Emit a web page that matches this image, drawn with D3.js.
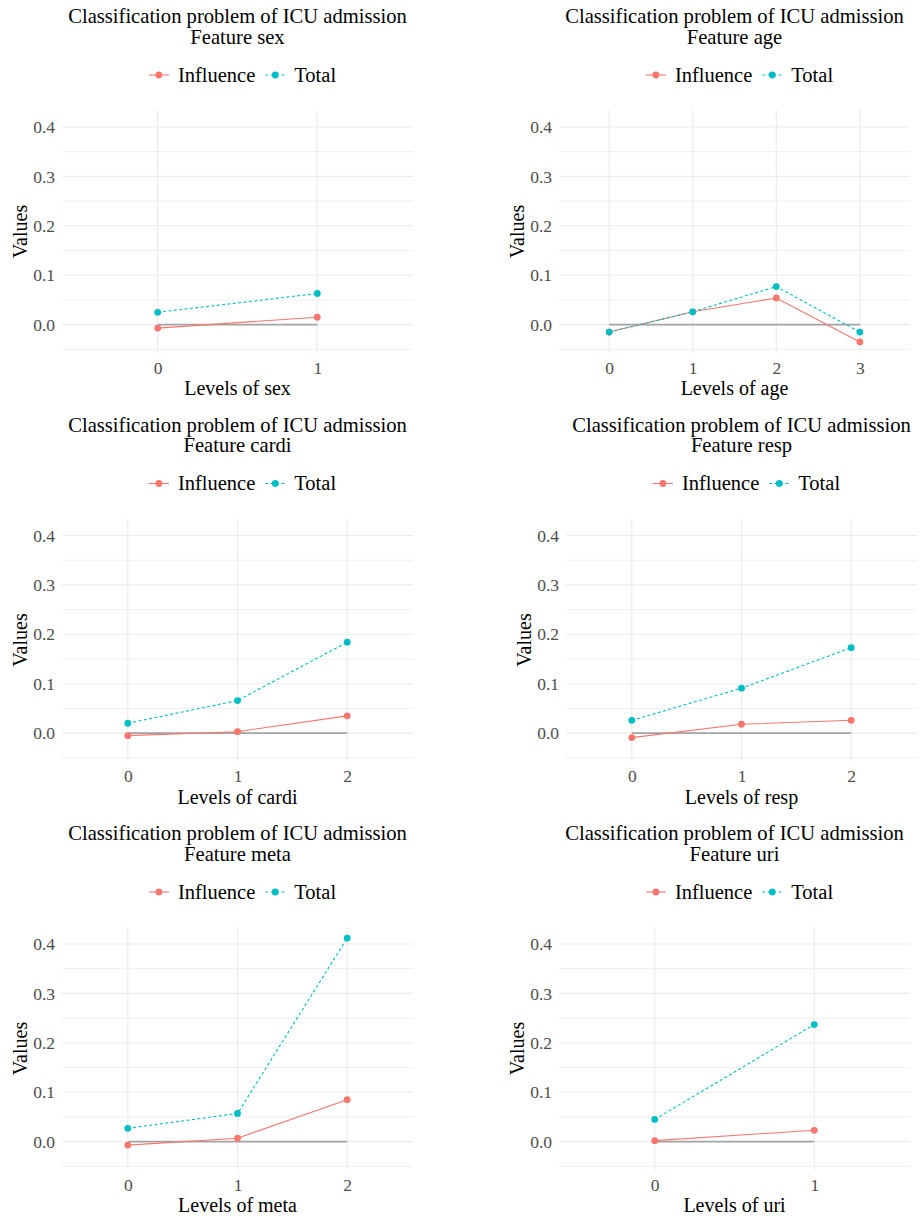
<!DOCTYPE html>
<html>
<head>
<meta charset="utf-8">
<script src="https://cdn.jsdelivr.net/npm/d3@7"></script>
<style>
  body { margin: 0; background: #fff; }
  svg text { font-family: "Liberation Serif", serif; }
</style>
</head>
<body>
<div id="vis"></div>
<script>

// data
const seriesNames = ['Influence', 'Total'];
const seriesColors = ['#F8766D', '#00BFC4'];
const yTicks = [0, 0.1, 0.2, 0.3, 0.4];
const chartTitle = 'Classification problem of ICU admission';

const features = ['sex', 'age', 'cardi', 'resp', 'meta', 'uri'];
const levelsSex = ['0', '1'];
const levelsAge = ['0', '1', '2', '3'];
const levelsCardi = ['0', '1', '2'];
const levelsResp = ['0', '1', '2'];
const levelsMeta = ['0', '1', '2'];
const levelsUri = ['0', '1'];

const influenceSex = [-0.007, 0.015];
const totalSex = [0.025, 0.063];
const influenceAge = [-0.015, 0.026, 0.054, -0.035];
const totalAge = [-0.015, 0.026, 0.077, -0.015];
const influenceCardi = [-0.005, 0.003, 0.035];
const totalCardi = [0.020, 0.066, 0.184];
const influenceResp = [-0.009, 0.018, 0.026];
const totalResp = [0.026, 0.091, 0.173];
const influenceMeta = [-0.007, 0.007, 0.085];
const totalMeta = [0.027, 0.057, 0.412];
const influenceUri = [0.002, 0.023];
const totalUri = [0.045, 0.237];

let panels = [
    {feature: features[0], levels: levelsSex, series: [influenceSex, totalSex], left: 62, top: 110},
    {feature: features[1], levels: levelsAge, series: [influenceAge, totalAge], left: 559, top: 110},
    {feature: features[2], levels: levelsCardi, series: [influenceCardi, totalCardi], left: 62, top: 518.5},
    {feature: features[3], levels: levelsResp, series: [influenceResp, totalResp], left: 566, top: 518.5},
    {feature: features[4], levels: levelsMeta, series: [influenceMeta, totalMeta], left: 62, top: 927},
    {feature: features[5], levels: levelsUri, series: [influenceUri, totalUri], left: 559, top: 927}
];

let width = 351,
    height = 243;

const serif = '"Liberation Serif", serif';

// shared y scale, ggplot style 5% expansion
let allValues = panels.map(p => p.series.flat()).flat();
let ext = d3.extent(allValues);
let pad = (ext[1] - ext[0]) * 0.05;

let yScale = d3.scaleLinear()
    .domain([ext[0] - pad, ext[1] + pad])
    .range([height, 0]);

let minorTicks = d3.range(yTicks.length + 1)
    .map(i => yTicks[0] - 0.05 + i * 0.1)
    .filter(v => v >= yScale.domain()[0] && v <= yScale.domain()[1]);

let svg = d3.select('#vis')
    .append('svg')
    .attr('width', 920)
    .attr('height', 1220)
    .attr('font-family', serif);

const dashes = [null, '3,2.4'];

panels.forEach(function(p) {
    let g = svg.append('g')
        .attr('transform', 'translate(' + p.left + ',' + p.top + ')');

    let xScale = d3.scalePoint()
        .domain(p.levels)
        .range([0, width])
        .padding(0.6);

    // grid
    g.selectAll('line.minor')
        .data(minorTicks)
        .enter()
        .append('line')
        .attr('x1', 0).attr('x2', width)
        .attr('y1', d => yScale(d)).attr('y2', d => yScale(d))
        .attr('stroke', '#ebebeb')
        .attr('stroke-width', 0.8);

    g.selectAll('line.major')
        .data(yTicks)
        .enter()
        .append('line')
        .attr('x1', 0).attr('x2', width)
        .attr('y1', d => yScale(d)).attr('y2', d => yScale(d))
        .attr('stroke', '#ebebeb')
        .attr('stroke-width', 1.1);

    g.selectAll('line.vgrid')
        .data(p.levels)
        .enter()
        .append('line')
        .attr('x1', d => xScale(d)).attr('x2', d => xScale(d))
        .attr('y1', 0).attr('y2', height)
        .attr('stroke', '#ebebeb')
        .attr('stroke-width', 1.1);

    // axes
    let yAxis = g.append('g')
        .call(d3.axisLeft(yScale).tickValues(yTicks).tickSize(0).tickPadding(7).tickFormat(d3.format('.1f')));
    let xAxis = g.append('g')
        .attr('transform', 'translate(0,' + height + ')')
        .call(d3.axisBottom(xScale).tickSize(0).tickPadding(8.5));
    [yAxis, xAxis].forEach(function(a) {
        a.attr('font-family', serif).attr('font-size', 17.5);
        a.select('.domain').remove();
        a.selectAll('text')
            .attr('fill', '#4d4d4d');
    });

    // zero reference line
    g.append('line')
        .attr('x1', xScale(p.levels[0]))
        .attr('x2', xScale(p.levels[p.levels.length - 1]))
        .attr('y1', yScale(0)).attr('y2', yScale(0))
        .attr('stroke', '#a3a3a3')
        .attr('stroke-width', 1.6);

    // series
    let line = d3.line()
        .x((d, i) => xScale(p.levels[i]))
        .y(d => yScale(d));

    p.series.forEach(function(values, s) {
        g.append('path')
            .datum(values)
            .attr('d', line)
            .attr('fill', 'none')
            .attr('stroke', seriesColors[s])
            .attr('stroke-width', 1.1)
            .attr('stroke-dasharray', dashes[s]);
    });
    p.series.forEach(function(values, s) {
        g.selectAll('circle.s' + s)
            .data(values)
            .enter()
            .append('circle')
            .attr('cx', (d, i) => xScale(p.levels[i]))
            .attr('cy', d => yScale(d))
            .attr('r', 3.4)
            .attr('fill', seriesColors[s]);
    });

    // titles
    g.append('text')
        .attr('x', width / 2).attr('y', -87)
        .attr('text-anchor', 'middle')
        .style('font-size', '20.6px')
        .text(chartTitle);
    g.append('text')
        .attr('x', width / 2).attr('y', -66.5)
        .attr('text-anchor', 'middle')
        .style('font-size', '20.6px')
        .text('Feature ' + p.feature);

    g.append('text')
        .attr('x', width / 2).attr('y', height + 42)
        .attr('text-anchor', 'middle')
        .style('font-size', '20px')
        .text('Levels of ' + p.feature);

    g.append('text')
        .attr('transform', 'translate(-35,' + (height / 2) + ') rotate(-90)')
        .attr('text-anchor', 'middle')
        .style('font-size', '20px')
        .text('Values');

    // legend
    let legend = g.append('g');
    let xPos = 0;
    seriesNames.forEach(function(name, s) {
        let item = legend.append('g').attr('transform', 'translate(' + xPos + ',0)');
        item.append('line')
            .attr('x1', 0).attr('x2', 20)
            .attr('stroke', seriesColors[s])
            .attr('stroke-width', 1.1)
            .attr('stroke-dasharray', dashes[s]);
        item.append('circle')
            .attr('cx', 10).attr('r', 3.4)
            .attr('fill', seriesColors[s]);
        let t = item.append('text')
            .attr('x', 29).attr('y', 6.5)
            .style('font-size', '20.5px')
            .text(name);
        xPos += 29 + t.node().getComputedTextLength() + 10;
    });
    xPos -= 10;
    legend.attr('transform', 'translate(' + (width / 2 - xPos / 2 + 5) + ',-35)');
});

</script>
</body>
</html>
